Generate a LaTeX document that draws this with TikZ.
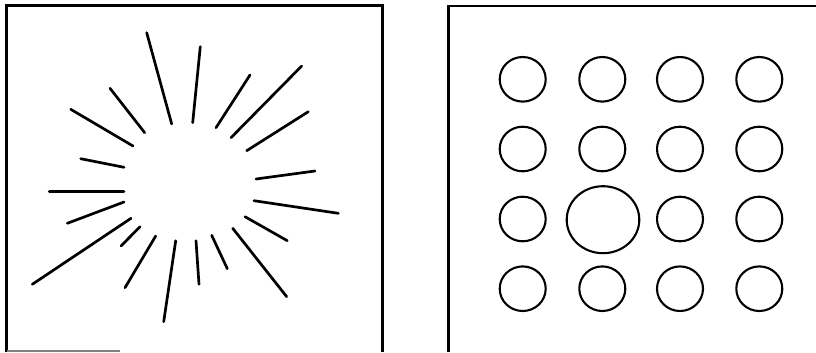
\documentclass[tikz,border=0pt]{standalone}
\tikzset{
  ray/.style={line width=2.7pt, line cap=round},
  frame/.style={line width=2.2pt},
  dot/.style={line width=2.1pt}
}
\begin{document}
\begin{tikzpicture}[x=1bp,y=-1bp]
\useasboundingbox (0,0) rectangle (816,352);
% left frame
\draw[frame] (6.5,352) -- (6.5,5.5) -- (382.5,5.5) -- (382.5,352);
\draw[line width=1.2pt, gray] (6.5,351) -- (120,351);
% right frame
\draw[frame] (448.5,352) -- (448.5,6) -- (816,6);
% rays
\foreach \a/\b/\c/\d in {
 146.7/32.7/171.7/124,
 200.3/46.7/192.7/122.7,
 250/75/216/127.7,
 301.7/66/231/137.7,
 308.3/111.7/246.7/150.7,
 315/171/256/179,
 338.3/213.3/254/200.7,
 287.3/240.7/245/216.7,
 286.7/296.7/232.7/228.3,
 227.3/268.7/211.7/235.3,
 199/284.3/196/240.7,
 175.7/240.7/163.7/321.7,
 155.7/236/125/287.7,
 140/226.7/121/246,
 131/218.3/32.3/284.3,
 124/202/67.3/223.3,
 124/191.3/49.3/191.3,
 124/167.3/80.7/158.7,
 133/146/70.7/109.3,
 144.7/132.7/110/88.3}
  \draw[ray] (\a,\b) -- (\c,\d);
% circles
\foreach \x in {522.7,602.3,680,759.3}
  \foreach \y in {79.3,149,288.7}
    \draw[dot] (\x,\y) ellipse [x radius=23, y radius=22.3];
\foreach \x in {522.7,680,759.3}
  \draw[dot] (\x,219) ellipse [x radius=23, y radius=22.3];
\draw[dot] (603,219.7) ellipse [x radius=36.3, y radius=33.5];
\end{tikzpicture}
\end{document}
